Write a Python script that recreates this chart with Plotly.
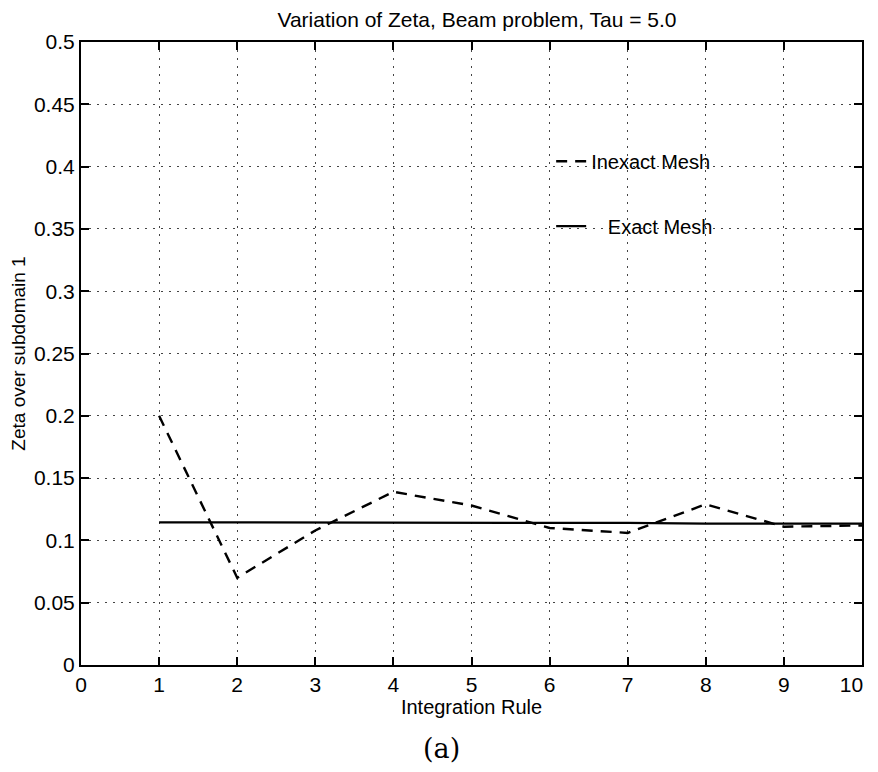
import plotly.graph_objects as go

# Data
integration_rule = [1, 2, 3, 4, 5, 6, 7, 8, 9, 10]
inexact_mesh = [0.200, 0.070, 0.108, 0.139, 0.128, 0.110, 0.106, 0.129, 0.111, 0.112]
exact_mesh = [0.1145, 0.1145, 0.114, 0.114, 0.114, 0.114, 0.114, 0.1135, 0.1135, 0.1135]

x_ticks = list(range(0, 11))
x_ticklabels = ["0", "1", "2", "3", "4", "5", "6", "7", "8", "9", "10\u2003"]
y_ticks = [0, 0.05, 0.1, 0.15, 0.2, 0.25, 0.3, 0.35, 0.4, 0.45, 0.5]
y_ticklabels = ["0", "0.05", "0.1", "0.15", "0.2", "0.25", "0.3", "0.35", "0.4", "0.45", "0.5"]

FONT = "Liberation Sans, Arial, Helvetica, sans-serif"

# page body has an 8px margin, so the figure is sized/offset accordingly
W, H = 870, 756

fig = go.Figure()
fig.add_trace(go.Scatter(
    x=integration_rule, y=inexact_mesh, mode="lines",
    name="Inexact Mesh", legendgroup="a",
    line=dict(color="black", width=2.4, dash="11px,8px"),
))
fig.add_trace(go.Scatter(
    x=integration_rule, y=exact_mesh, mode="lines",
    name="\u00a0\u00a0\u00a0Exact Mesh", legendgroup="b",
    line=dict(color="black", width=2.3),
))

axis_common = dict(
    showline=True, linecolor="black", linewidth=2, mirror="allticks",
    ticks="inside", ticklen=8, tickwidth=2, tickcolor="black",
    showgrid=True, gridcolor="#444444", gridwidth=1, griddash="2px,6px",
    zeroline=False, automargin=False, ticklabeloverflow="allow",
    tickfont=dict(family=FONT, size=21, color="black"),
)

fig.update_layout(
    width=W, height=H,
    margin=dict(l=73, r=16, t=34, b=H - 657),
    paper_bgcolor="white", plot_bgcolor="white",
    font=dict(family=FONT, color="black"),
    title=dict(
        text="Variation of Zeta, Beam problem, Tau = 5.0",
        x=469 / W, xanchor="center", xref="container",
        y=1 - 12 / H, yanchor="middle", yref="container",
        font=dict(family=FONT, size=21, color="black"),
    ),
    xaxis=dict(
        range=[0, 10], tickmode="array", tickvals=x_ticks, ticktext=x_ticklabels,
        title=dict(text="Integration Rule", font=dict(family=FONT, size=20), standoff=4),
        **axis_common,
    ),
    yaxis=dict(
        range=[0, 0.5], tickmode="array", tickvals=y_ticks, ticktext=y_ticklabels,
        title=dict(text="Zeta over subdomain 1", font=dict(family=FONT, size=19), standoff=3),
        **axis_common,
    ),
    showlegend=True,
    legend=dict(
        x=0.602, y=0.84, xanchor="left", yanchor="top",
        bgcolor="rgba(0,0,0,0)", borderwidth=0,
        font=dict(family=FONT, size=20, color="black"),
        itemwidth=30, tracegroupgap=36,
    ),
    annotations=[dict(
        text="(a)", xref="paper", yref="paper", x=(441 - 80) / 783, y=-(741 - 657) / 623,
        xanchor="center", yanchor="middle", showarrow=False,
        font=dict(family="DejaVu Serif, Liberation Serif, serif", size=27, color="black"),
    )],
)

fig.write_html("out.html")
